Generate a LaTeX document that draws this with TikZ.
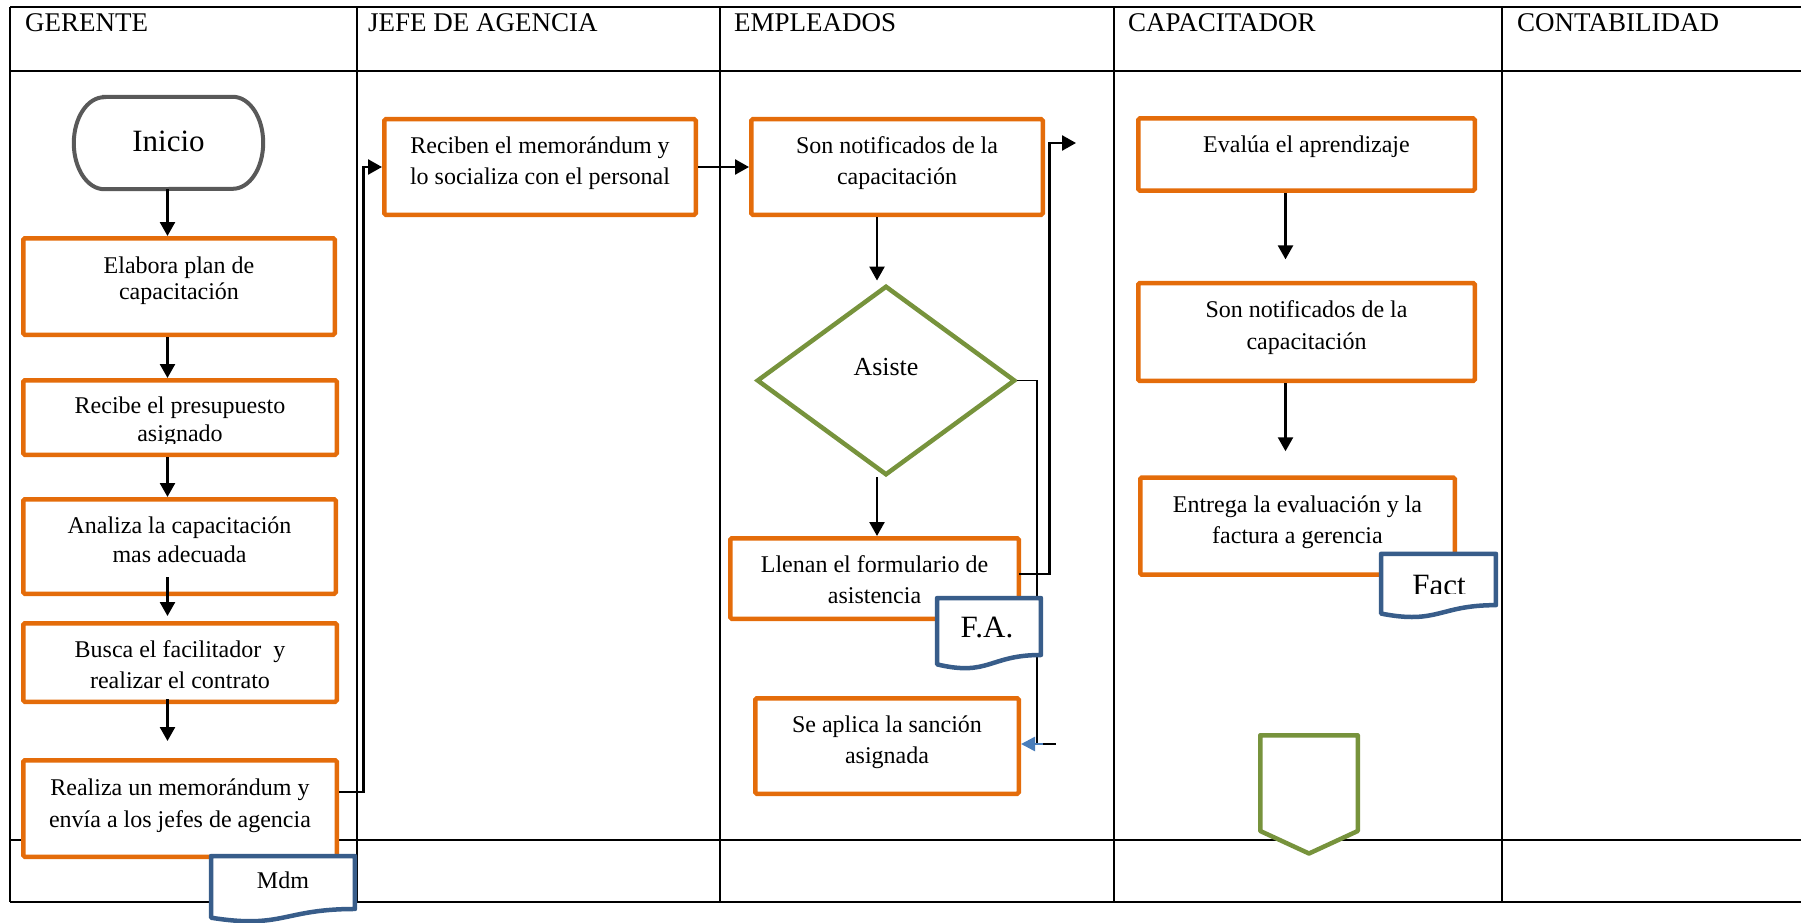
\documentclass[tikz,border=0pt]{standalone}
\usepackage{fontspec}
\setmainfont{Liberation Serif}
\usetikzlibrary{arrows.meta,shapes.geometric,calc}

\definecolor{procorange}{HTML}{E46C0A}
\definecolor{decgreen}{HTML}{77933C}
\definecolor{docblue}{HTML}{385D8A}
\definecolor{termgray}{HTML}{595959}
\definecolor{arrblue}{HTML}{4A7EBB}

% text block of a process box: width, height, first baseline from top, line skip, lines
\newcommand\boxtext[5]{\parbox[c][#2pt][t]{#1pt}{\centering\fontsize{24}{#4}\selectfont
  \vspace*{\dimexpr #3pt-0.7\baselineskip\relax}#5}}

\tikzset{
  grid/.style={draw=black, line width=2.5pt},
  lanehead/.style={anchor=base west, inner sep=0pt, font=\fontsize{27}{31}\selectfont},
  proc/.style={draw=procorange, line width=4.5pt, fill=white, inner sep=0pt, rounded corners=1.5pt},
  frame/.style={draw=none, inner sep=0pt},
  termshape/.style={draw=termgray, line width=4pt, fill=white},
  decision/.style={diamond, draw=decgreen, line width=4.5pt, fill=white, inner sep=0pt,
    font=\fontsize{26}{30}\selectfont},
  docshape/.style={draw=docblue, line width=4.5pt, fill=white, line join=round},
  doclabel/.style={anchor=base, inner sep=0pt},
  offpage/.style={draw=decgreen, line width=4.5pt, fill=white, line join=round},
  arr/.style={draw=black, line width=2.5pt, -{Triangle[length=14pt,width=15pt]}},
  thinconn/.style={draw=black, line width=1.8pt},
  bluearr/.style={draw=arrblue, line width=2.5pt, -{Triangle[length=14pt,width=14pt]}},
}

\begin{document}
\begin{tikzpicture}[x=1pt, y=-1pt]
\useasboundingbox (0,0) rectangle (1801,923);

% swimlane table
\draw[grid] (10,7) -- (1801,7);
\draw[grid] (10,71) -- (1801,71);
\draw[grid] (10,840) -- (1801,840);
\draw[grid] (10,902) -- (1801,902);
\foreach \lx in {10,357,720,1114,1502} \draw[grid] (\lx,7) -- (\lx,902);

\node[lanehead] (hger) at (25,32) {GERENTE};
\node[lanehead] (hjefe) at (368,32) {JEFE DE AGENCIA};
\node[lanehead] (hemp) at (734,32) {EMPLEADOS};
\node[lanehead] (hcap) at (1128,32) {CAPACITADOR};
\node[lanehead] (hcont) at (1517,32) {CONTABILIDAD};

% GERENTE
\node[frame, minimum width=189pt, minimum height=92pt] (inicio) at (168.5,143) {};
\filldraw[termshape] ($(inicio.north west)+(30.4,0)$) -- ($(inicio.north east)+(-30.4,0)$)
  arc[start angle=-90, end angle=90, x radius=30.4, y radius=46]
  -- ($(inicio.south west)+(30.4,0)$)
  arc[start angle=90, end angle=270, x radius=30.4, y radius=46] -- cycle;
\node[inner sep=0pt, text height=16pt, text depth=0pt, font=\fontsize{31}{36}\selectfont]
  (iniciotext) at (inicio.center) {Inicio};

\node[proc] (elab) at (179,286.5)
  {\boxtext{311.5}{96.5}{34.75}{26}{\strut Elabora plan de\\\strut capacitación}};
\node[proc, minimum width=313.5pt, minimum height=74.5pt] (recibe) at (180,417.5) {};
\begin{scope}
  \clip (23.25,380.25) rectangle (336.75,443);
  \node[inner sep=0pt] (recibetext) at (recibe.center)
    {\boxtext{313.5}{74.5}{32.75}{28}{\strut Recibe el presupuesto\\\strut asignado}};
\end{scope}
\node[proc] (analiza) at (179.5,546.5)
  {\boxtext{312.5}{94.5}{33.75}{29}{\strut Analiza la capacitación\\\strut mas adecuada}};
\node[proc] (busca) at (180,662.5)
  {\boxtext{313.5}{78.5}{33.75}{31}{\strut Busca el facilitador\ \ y\\\strut realizar el contrato}};
\node[proc] (realiza) at (180,808.5)
  {\boxtext{313.5}{96.5}{34.75}{32}{\strut Realiza un memorándum y\\\strut envía a los jefes de agencia}};

% JEFE DE AGENCIA
\node[proc] (reciben) at (540,167)
  {\boxtext{311.5}{95.5}{33.75}{31}{\strut Reciben el memorándum y\\\strut lo socializa con el personal}};

% EMPLEADOS
\node[proc] (son1) at (897,167)
  {\boxtext{291.5}{95.5}{33.75}{31}{\strut Son notificados de la\\\strut capacitación}};
\node[decision, minimum width=258.4pt, minimum height=189.4pt, text height=0pt, text depth=11pt]
  (dia) at (886,380.5) {Asiste};
\node[proc] (llenan) at (874.5,578.5)
  {\boxtext{288.5}{80.5}{33.75}{31}{\strut Llenan el formulario de\\\strut asistencia}};
\node[proc] (sancion) at (887,746)
  {\boxtext{263.5}{95.5}{33.75}{31}{\strut Se aplica la sanción\\\strut asignada}};

% CAPACITADOR
\node[proc] (evalua) at (1306.5,154.5)
  {\boxtext{336.5}{72}{34.5}{31}{\strut Evalúa el aprendizaje}};
\node[proc] (son2) at (1306.5,332)
  {\boxtext{336.5}{97.8}{34.6}{31.7}{\strut Son notificados de la\\\strut capacitación}};
\node[proc] (entrega) at (1297.5,526.1)
  {\boxtext{314.5}{97.2}{34.7}{31}{\strut Entrega la evaluación y la\\\strut factura a gerencia}};

% off-page connector
\filldraw[offpage] (1260.25,735.25) -- (1357.75,735.25) -- (1357.75,831) -- (1309,853.5)
  -- (1260.25,831) -- cycle;

% connectors
\coordinate (gx) at (167.5,0);
\coordinate (ex) at (877,0);
\coordinate (cx) at (1285.5,0);
\coordinate (toeval) at (1076,143);
\coordinate (stub) at (1056,744);

\draw[arr] (inicio.south -| gx) -- (elab.north -| gx);
\draw[arr] (elab.south -| gx) -- (recibe.north -| gx);
\draw[arr] (recibe.south -| gx) -- (analiza.north -| gx);
\draw[arr] ($(analiza.south -| gx)+(0,-19)$) -- ($(busca.north -| gx)+(0,-5)$);
\draw[arr] ($(busca.south -| gx)+(0,-5)$) -- ($(realiza.north -| gx)+(0,-17)$);
\draw[arr] ($(realiza.east)+(0,-16.5)$) -- ++(24.25,0) |- (reciben.west);
\draw[arr] (reciben.east) -- (son1.west);
\draw[arr] (son1.south -| ex) -- ($(dia.north -| ex)+(0,-3)$);
\draw[arr] (dia.south -| ex) -- (llenan.north -| ex);
\draw[arr] ($(llenan.east)+(-2,-4.5)$) -- ++(30.25,0) |- (toeval);
\draw[thinconn] (dia.east) -| ($(stub)+(-19,0)$) -- (stub);
\draw[bluearr] ($(stub)+(-13,0)$) -- (sancion.east |- stub);
\draw[arr] (evalua.south -| cx) -- ($(son2.north -| cx)+(0,-21.5)$);
\draw[arr] (son2.south -| cx) -- ($(entrega.north -| cx)+(0,-24)$);

% documents
\node[frame, minimum width=143.5pt, minimum height=66pt] (mdm) at (283,889.25) {};
\filldraw[docshape] (mdm.north west) -- (mdm.north east) -- ($(mdm.north east)+(0,52.93)$)
  .. controls ($(mdm.north)+(0,52.93)$) and ($(mdm.north)+(0,73.13)$) .. ($(mdm.north west)+(0,61.64)$) -- cycle;
\node[doclabel, font=\fontsize{24}{28}\selectfont] (mdmtext) at ($(mdm.north)+(0,32.75)$) {Mdm};

\node[frame, minimum width=103.5pt, minimum height=71pt] (fa) at (989,633.75) {};
\filldraw[docshape] (fa.north west) -- (fa.north east) -- ($(fa.north east)+(0,56.94)$)
  .. controls ($(fa.north)+(0,56.94)$) and ($(fa.north)+(0,78.67)$) .. ($(fa.north west)+(0,66.31)$) -- cycle;
\node[doclabel, font=\fontsize{31}{36}\selectfont] (fatext) at ($(fa.north)+(-2,39.75)$) {F.A.};

\node[frame, minimum width=114.5pt, minimum height=64pt] (fact) at (1438.5,586) {};
\filldraw[docshape] (fact.north west) -- (fact.north east) -- ($(fact.north east)+(0,51.33)$)
  .. controls ($(fact.north)+(0,51.33)$) and ($(fact.north)+(0,70.91)$) .. ($(fact.north west)+(0,59.78)$) -- cycle;
\begin{scope}
  \clip (1383.5,556) rectangle (1493.5,593);
  \node[doclabel, font=\fontsize{31}{36}\selectfont] (facttext) at ($(fact.north)+(0.5,41.5)$) {Fact};
\end{scope}

\end{tikzpicture}
\end{document}
